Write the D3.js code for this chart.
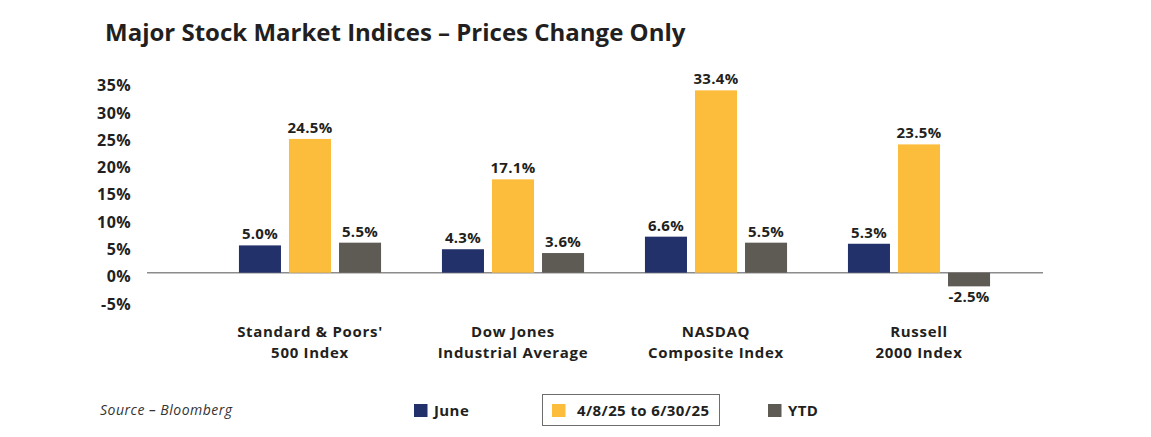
<!DOCTYPE html>
<html>
<head>
<meta charset="utf-8">
<script src="https://cdn.jsdelivr.net/npm/d3@7"></script>
<style>
  body { margin: 0; background: #fff; }
  svg text { font-family: "Open Sans", Lato, sans-serif; fill: #231f20; }
</style>
</head>
<body>
<svg id="chart" width="1151" height="437"></svg>
<script>
// chart data
var categories = [["Standard & Poors'", "500 Index"], ["Dow Jones", "Industrial Average"],
                  ["NASDAQ", "Composite Index"], ["Russell", "2000 Index"]];
var seriesNames = ["June", "4/8/25 to 6/30/25", "YTD"];
var june = [5.0, 4.3, 6.6, 5.3];
var sinceApril = [24.5, 17.1, 33.4, 23.5];
var ytd = [5.5, 3.6, 5.5, -2.5];
var yTicks = [-5, 0, 5, 10, 15, 20, 25, 30, 35];
var colors = ["#23316b", "#fdbd3c", "#5e5b55"];

var values = [june, sinceApril, ytd];
var svg = d3.select('#chart');

// title
svg.append('text')
    .attr('x', 105).attr('y', 41)
    .style('font-size', '24px').style('font-weight', 700)
    .text('Major Stock Market Indices \u2013 Prices Change Only');

var y = d3.scaleLinear().domain([-5, 35]).range([300, 81.6]);

var x0 = d3.scaleBand()
    .domain(d3.range(categories.length))
    .range([208.5, 1020.5])
    .paddingInner(0.3).paddingOuter(0.15);

var x1 = d3.scaleBand()
    .domain(d3.range(seriesNames.length))
    .range([0, x0.bandwidth()])
    .paddingInner(0.16);

// y axis
var yAxis = svg.append('g')
    .attr('transform', 'translate(131,0)')
    .call(d3.axisLeft(y).tickValues(yTicks).tickSize(0).tickPadding(0)
          .tickFormat(function(d) { return d + '%'; }));
yAxis.select('.domain').remove();
yAxis.selectAll('text')
    .attr('y', 4)
    .style('font-family', '"Open Sans", sans-serif')
    .style('font-size', '16px').style('font-weight', 700)
    .style('letter-spacing', '0.4px')
    .style('fill', '#231f20');

// zero line
svg.append('line')
    .attr('x1', 147).attr('x2', 1043)
    .attr('y1', y(0)).attr('y2', y(0))
    .attr('stroke', '#8c8c8c').attr('stroke-width', 1.5);

// bars
var rows = [];
categories.forEach(function(c, i) {
  seriesNames.forEach(function(s, j) {
    rows.push({cat: i, ser: j, v: values[j][i]});
  });
});

var groups = svg.append('g');
groups.selectAll('rect').data(rows).enter().append('rect')
    .attr('x', function(d) { return x0(d.cat) + x1(d.ser); })
    .attr('y', function(d) { return y(Math.max(0, d.v)); })
    .attr('width', x1.bandwidth())
    .attr('height', function(d) { return Math.abs(y(d.v) - y(0)); })
    .attr('fill', function(d) { return colors[d.ser]; });

groups.selectAll('.val').data(rows).enter().append('text')
    .attr('class', 'val')
    .attr('x', function(d) { return x0(d.cat) + x1(d.ser) + x1.bandwidth() / 2; })
    .attr('y', function(d) { return d.v >= 0 ? y(d.v) - 6 : y(d.v) + 16; })
    .attr('text-anchor', 'middle')
    .style('font-size', '15px').style('font-weight', 700)
    .style('letter-spacing', '0.3px')
    .text(function(d) { return d.v.toFixed(1) + '%'; });

// category labels, two lines each
var catLabels = svg.append('g').selectAll('text').data(categories).enter().append('text')
    .attr('text-anchor', 'middle')
    .style('font-size', '15px').style('font-weight', 700)
    .style('letter-spacing', '0.7px');
catLabels.each(function(c, i) {
  var t = d3.select(this);
  c.forEach(function(line, k) {
    t.append('tspan')
        .attr('x', x0(i) + x0.bandwidth() / 2)
        .attr('y', 337 + k * 20.5)
        .text(line);
  });
});

// source
svg.append('text')
    .attr('x', 100).attr('y', 415)
    .style('font-size', '14px').style('font-style', 'italic')
    .style('letter-spacing', '0.5px')
    .style('fill', '#333')
    .text('Source \u2013 Bloomberg');

// legend
var legendX = [414, 552, 768];
svg.append('rect')
    .attr('x', 542.5).attr('y', 394.5)
    .attr('width', 177).attr('height', 31)
    .attr('fill', 'none').attr('stroke', '#6d6d6d').attr('stroke-width', 1);

var legend = svg.append('g').selectAll('g').data(seriesNames).enter().append('g')
    .attr('transform', function(d, i) { return 'translate(' + legendX[i] + ',404)'; });
legend.append('rect')
    .attr('width', 13.5).attr('height', 13)
    .attr('fill', function(d, i) { return colors[i]; });
legend.append('text')
    .attr('x', function(d, i) { return i == 1 ? 25 : 20; })
    .attr('y', 12)
    .style('font-size', '15px').style('font-weight', 700)
    .style('letter-spacing', '0.4px')
    .text(function(d) { return d; });
</script>
</body>
</html>
